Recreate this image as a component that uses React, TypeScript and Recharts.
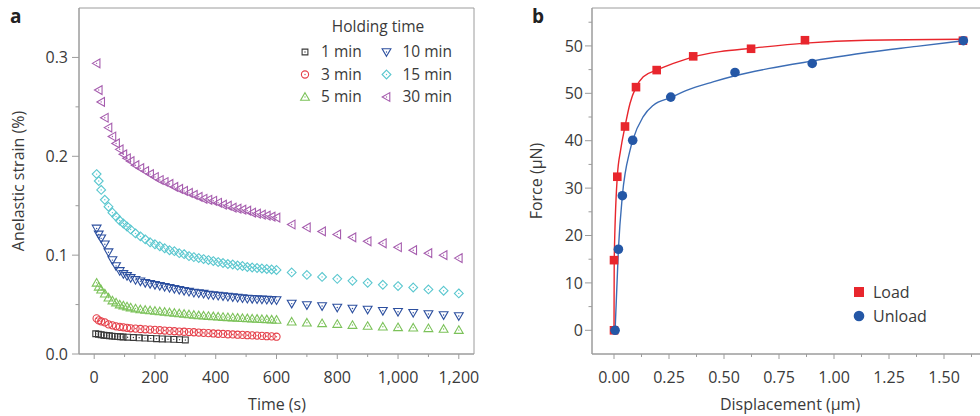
import React from "react";
import { ScatterChart, Scatter, XAxis, YAxis, ReferenceArea } from "recharts";

const FONT = '"Open Sans", "DejaVu Sans", sans-serif';
const TEXT = "#3a3a3a";
const AXIS = "#9c9c9c";

// ---- panel a: anelastic strain vs time ----
const oneMinTimes = [5, 14, 23, 32, 41, 50, 59, 68, 77, 86, 95, 110, 129, 148, 167, 186, 205, 224, 243, 262, 281, 300];
const oneMinStrain = [0.0205, 0.02, 0.0195, 0.019, 0.0187, 0.0184, 0.0181, 0.0178, 0.0176, 0.0174, 0.0172, 0.017, 0.0167, 0.0164, 0.0161, 0.0158, 0.0155, 0.0152, 0.015, 0.0148, 0.0145, 0.0142];

const holdTimes = [8, 15, 23, 35, 47, 60, 72, 84, 96, 108, 120, 136, 152, 168, 184, 200, 216, 232, 248, 264, 280, 296, 312, 328, 344, 360, 376, 392, 408, 424, 440, 456, 472, 488, 504, 520, 536, 552, 568, 584, 600];
const tailTimes = [650, 700, 750, 800, 850, 900, 950, 1000, 1050, 1100, 1150, 1200];

const threeMinStrain = [0.036, 0.034, 0.033, 0.032, 0.03, 0.029, 0.028, 0.0275, 0.027, 0.0265, 0.026, 0.0257, 0.0253, 0.025, 0.0247, 0.0244, 0.024, 0.0237, 0.0234, 0.023, 0.0227, 0.0225, 0.0222, 0.022, 0.0217, 0.0214, 0.0211, 0.0208, 0.0205, 0.0203, 0.02, 0.0198, 0.0195, 0.0193, 0.019, 0.0188, 0.0186, 0.0183, 0.018, 0.0178, 0.0175];
const fiveMinStrain = [0.072, 0.068, 0.065, 0.061, 0.057, 0.054, 0.052, 0.05, 0.049, 0.048, 0.047, 0.046, 0.045, 0.0445, 0.044, 0.0435, 0.043, 0.0425, 0.042, 0.0415, 0.041, 0.0405, 0.04, 0.0395, 0.039, 0.0387, 0.0384, 0.038, 0.0377, 0.0374, 0.0371, 0.0368, 0.0365, 0.0362, 0.036, 0.0357, 0.0355, 0.0352, 0.035, 0.0347, 0.0345,
  0.0326, 0.0316, 0.031, 0.0303, 0.0293, 0.0283, 0.0276, 0.027, 0.0266, 0.026, 0.0253, 0.0242];
const tenMinStrain = [0.127, 0.121, 0.117, 0.111, 0.103, 0.095, 0.089, 0.084, 0.081, 0.079, 0.077, 0.075, 0.0735, 0.072, 0.071, 0.07, 0.069, 0.068, 0.067, 0.066, 0.065, 0.064, 0.063, 0.062, 0.0615, 0.061, 0.06, 0.0595, 0.059, 0.0585, 0.058, 0.0575, 0.057, 0.0565, 0.056, 0.0558, 0.0555, 0.0552, 0.055, 0.0547, 0.0545,
  0.051, 0.0495, 0.0485, 0.047, 0.046, 0.045, 0.0437, 0.0427, 0.0417, 0.0404, 0.0394, 0.0384];
const fifteenMinStrain = [0.182, 0.175, 0.166, 0.156, 0.149, 0.143, 0.139, 0.135, 0.132, 0.129, 0.126, 0.122, 0.119, 0.116, 0.113, 0.111, 0.109, 0.107, 0.105, 0.104, 0.102, 0.101, 0.099, 0.098, 0.097, 0.096, 0.095, 0.094, 0.093, 0.092, 0.091, 0.0905, 0.0895, 0.089, 0.088, 0.0875, 0.087, 0.0865, 0.086, 0.0855, 0.085,
  0.0825, 0.08, 0.078, 0.076, 0.074, 0.072, 0.07, 0.0687, 0.0673, 0.0653, 0.064, 0.0613];
const thirtyMinStrain = [0.294, 0.267, 0.255, 0.239, 0.229, 0.22, 0.213, 0.207, 0.202, 0.198, 0.195, 0.191, 0.188, 0.185, 0.182, 0.179, 0.176, 0.174, 0.172, 0.169, 0.167, 0.165, 0.163, 0.161, 0.159, 0.157, 0.156, 0.155, 0.153, 0.151, 0.15, 0.148, 0.147, 0.146, 0.145, 0.143, 0.142, 0.141, 0.14, 0.139, 0.138,
  0.131, 0.128, 0.124, 0.121, 0.118, 0.114, 0.112, 0.108, 0.105, 0.102, 0.1, 0.097];

const timeTicks = [0, 200, 400, 600, 800, 1000, 1200];
const timeTickLabels = ["0", "200", "400", "600", "800", "1,000", "1,200"];
const timeMinorTicks = [100, 300, 500, 700, 900, 1100];
const strainTicks = [0, 0.1, 0.2, 0.3];
const strainTickLabels = ["0.0", "0.1", "0.2", "0.3"];
const strainMinorTicks = [0.05, 0.15, 0.25];

// ---- panel b: force vs displacement ----
const loadDisp = [0, 0, 0.015, 0.05, 0.1, 0.194, 0.36, 0.623, 0.868, 1.586];
const loadForce = [0, 14.8, 32.4, 43, 51.3, 54.9, 57.8, 59.4, 61.2, 61.1];
const unloadDisp = [0.005, 0.02, 0.038, 0.085, 0.258, 0.55, 0.901, 1.588];
const unloadForce = [0, 17.1, 28.4, 40.1, 49.2, 54.4, 56.3, 61.1];
// fitted curves
const loadFitDisp = [0, 0.001, 0.015, 0.03, 0.05, 0.073, 0.1, 0.133, 0.194, 0.27, 0.36, 0.482, 0.623, 0.868, 1.149, 1.588];
const loadFitForce = [0, 14.8, 32.4, 38, 43, 47.9, 51.3, 53.5, 54.9, 56.3, 57.7, 58.8, 59.5, 60.6, 61.2, 61.4];
const unloadFitDisp = [0.005, 0.02, 0.038, 0.073, 0.085, 0.133, 0.179, 0.258, 0.33, 0.45, 0.55, 0.7, 0.9, 1.149, 1.376, 1.588];
const unloadFitForce = [0, 17.1, 28.4, 38, 40.1, 45.1, 47.5, 49.1, 50.6, 52.4, 53.7, 55.2, 56.8, 58.6, 59.9, 61.1];

const dispTicks = [0, 0.25, 0.5, 0.75, 1, 1.25, 1.5];
const dispTickLabels = ["0.00", "0.25", "0.50", "0.75", "1.00", "1.25", "1.50"];
const dispMinorTicks = [0.125, 0.375, 0.625, 0.875, 1.125, 1.375, 1.625];
const forceTicks = [0, 10, 20, 30, 40, 50, 60];
const forceTickLabels = ["0", "10", "20", "30", "40", "50", "50"];
const forceMinorTicks = [5, 15, 25, 35, 45, 55, 65];

const pts = (xs: number[], ys: number[]) => xs.map((x, i) => ({ x, y: ys[i] }));

type Kind = "square" | "circle" | "up" | "down" | "diamond" | "left";

function markerD(kind: Kind, cx: number, cy: number) {
  switch (kind) {
    case "square":
      return `M${cx - 2.9},${cy - 2.9}h5.8v5.8h-5.8Z`;
    case "circle":
      return `M${cx - 3.6},${cy}a3.6,3.6 0 1,0 7.2,0a3.6,3.6 0 1,0 -7.2,0`;
    case "up":
      return `M${cx},${cy - 4.3}L${cx + 4.4},${cy + 3.3}L${cx - 4.4},${cy + 3.3}Z`;
    case "down":
      return `M${cx},${cy + 4.3}L${cx + 4.4},${cy - 3.3}L${cx - 4.4},${cy - 3.3}Z`;
    case "diamond":
      return `M${cx},${cy - 4.4}L${cx + 4.4},${cy}L${cx},${cy + 4.4}L${cx - 4.4},${cy}Z`;
    default:
      return `M${cx - 4.3},${cy}L${cx + 3.3},${cy - 4.4}L${cx + 3.3},${cy + 4.4}Z`;
  }
}

const Marker = ({ kind, color, cx, cy }: { kind: Kind; color: string; cx: number; cy: number }) => (
  <g>
    <path d={markerD(kind, cx, cy)} fill="none" stroke={color} strokeWidth={1.1} />
    <circle cx={cx} cy={cy} r={0.7} fill={color} />
  </g>
);

const hollow = (kind: Kind, color: string) => (p: any) => <Marker kind={kind} color={color} cx={p.cx} cy={p.cy} />;

const holdingSeries = [
  { name: "1 min", kind: "square" as Kind, color: "#3a3a3a", data: pts(oneMinTimes, oneMinStrain) },
  { name: "3 min", kind: "circle" as Kind, color: "#e5404a", data: pts(holdTimes, threeMinStrain) },
  { name: "5 min", kind: "up" as Kind, color: "#7cc25a", data: pts([...holdTimes, ...tailTimes], fiveMinStrain) },
  { name: "10 min", kind: "down" as Kind, color: "#2c4f9f", data: pts([...holdTimes, ...tailTimes], tenMinStrain) },
  { name: "15 min", kind: "diamond" as Kind, color: "#5ac7cf", data: pts([...holdTimes, ...tailTimes], fifteenMinStrain) },
  { name: "30 min", kind: "left" as Kind, color: "#a65dae", data: pts([...holdTimes, ...tailTimes], thirtyMinStrain) },
];

const findLabel = (v: number, ticks: number[], labels: string[]) => {
  const i = ticks.findIndex((t) => Math.abs(t - v) < 1e-9);
  return i >= 0 ? labels[i] : null;
};

const bottomTick = (ticks: number[], labels: string[]) => (p: any) => {
  const label = findLabel(p.payload.value, ticks, labels);
  const len = label !== null ? 5 : 3;
  return (
    <g>
      <line x1={p.x} x2={p.x} y1={p.y} y2={p.y + len} stroke={AXIS} />
      {label !== null && (
        <text x={p.x} y={p.y + 29} textAnchor="middle" fontSize={16} fill={TEXT} fontFamily={FONT}>
          {label}
        </text>
      )}
    </g>
  );
};

const leftTick = (ticks: number[], labels: string[], gap: number) => (p: any) => {
  const label = findLabel(p.payload.value, ticks, labels);
  const len = label !== null ? 7 : 3.5;
  return (
    <g>
      <line x1={p.x - len} x2={p.x} y1={p.y} y2={p.y} stroke={AXIS} />
      {label !== null && (
        <text x={p.x - gap} y={p.y + 5.7} textAnchor="end" fontSize={16} fill={TEXT} fontFamily={FONT}>
          {label}
        </text>
      )}
    </g>
  );
};

const sorted = (a: number[], b: number[]) => [...a, ...b].sort((m, n) => m - n);

function StrainPanel() {
  return (
    <ScatterChart width={480} height={416} margin={{ top: 8, right: 6, bottom: 32, left: 29 }}>
      <XAxis
        type="number"
        dataKey="x"
        domain={[-50, 1250]}
        allowDataOverflow
        ticks={sorted(timeTicks, timeMinorTicks)}
        interval={0}
        tickSize={0}
        tickMargin={0}
        tickLine={false}
        axisLine={{ stroke: AXIS }}
        height={30}
        tick={bottomTick(timeTicks, timeTickLabels)}
      />
      <YAxis
        type="number"
        dataKey="y"
        domain={[0, 0.35]}
        allowDataOverflow
        ticks={sorted(strainTicks, strainMinorTicks)}
        interval={0}
        tickSize={0}
        tickMargin={0}
        tickLine={false}
        axisLine={{ stroke: AXIS }}
        width={50}
        tick={leftTick(strainTicks, strainTickLabels, 11)}
      />
      <ReferenceArea x1={-50} x2={1250} y1={0} y2={0.35} fill="none" stroke={AXIS} strokeOpacity={1} />
      {holdingSeries.map((s) => (
        <Scatter key={s.name} name={s.name} data={s.data} shape={hollow(s.kind, s.color)} isAnimationActive={false} />
      ))}
    </ScatterChart>
  );
}

const RED = "#e8262d";
const BLUE = "#2457a6";

const filledSquare = (p: any) => <rect x={p.cx - 4.3} y={p.cy - 4.3} width={8.6} height={8.6} fill={RED} />;
const filledCircle = (p: any) => <circle cx={p.cx} cy={p.cy} r={4.8} fill={BLUE} />;
const noMark = () => <g />;

function ForcePanel() {
  return (
    <ScatterChart width={500} height={416} margin={{ top: 8, right: 12, bottom: 32, left: 42 }}>
      <XAxis
        type="number"
        dataKey="x"
        domain={[-0.1, 1.7]}
        allowDataOverflow
        ticks={sorted(dispTicks, dispMinorTicks)}
        interval={0}
        tickSize={0}
        tickMargin={0}
        tickLine={false}
        axisLine={{ stroke: AXIS }}
        height={30}
        tick={bottomTick(dispTicks, dispTickLabels)}
      />
      <YAxis
        type="number"
        dataKey="y"
        domain={[-5, 68]}
        allowDataOverflow
        ticks={sorted(forceTicks, forceMinorTicks)}
        interval={0}
        tickSize={0}
        tickMargin={0}
        tickLine={false}
        axisLine={{ stroke: AXIS }}
        width={50}
        tick={leftTick(forceTicks, forceTickLabels, 9)}
      />
      <ReferenceArea x1={-0.1} x2={1.7} y1={-5} y2={68} fill="none" stroke={AXIS} strokeOpacity={1} />
      <Scatter
        data={pts(unloadFitDisp, unloadFitForce)}
        line={{ stroke: "#3c6db5", strokeWidth: 1.4 }}
        lineJointType="monotoneX"
        shape={noMark}
        isAnimationActive={false}
      />
      <Scatter
        data={pts(loadFitDisp, loadFitForce)}
        line={{ stroke: RED, strokeWidth: 1.4 }}
        lineJointType="monotoneX"
        shape={noMark}
        isAnimationActive={false}
      />
      <Scatter name="Load" data={pts(loadDisp, loadForce)} shape={filledSquare} isAnimationActive={false} />
      <Scatter name="Unload" data={pts(unloadDisp, unloadForce)} shape={filledCircle} isAnimationActive={false} />
    </ScatterChart>
  );
}

const legendCols = [305, 386.5];
const legendRows = [52, 74.5, 97];

function Annotations() {
  const t = { fontFamily: FONT, fill: TEXT };
  return (
    <svg width={980} height={416} style={{ position: "absolute", left: 0, top: 0, pointerEvents: "none" }}>
      <text x={10} y={23} fontSize={19} fontWeight="bold" {...t} fill="#222">a</text>
      <text x={532} y={23} fontSize={19} fontWeight="bold" {...t} fill="#222">b</text>

      <text x={277} y={410} fontSize={16} textAnchor="middle" {...t}>Time (s)</text>
      <text x={790} y={410} fontSize={16} textAnchor="middle" {...t}>Displacement (μm)</text>
      <text transform="translate(23.5,181) rotate(-90)" fontSize={16} textAnchor="middle" {...t}>Anelastic strain (%)</text>
      <text transform="translate(542,181) rotate(-90)" fontSize={16} textAnchor="middle" {...t}>Force (μN)</text>

      <text x={378} y={32} fontSize={15.5} textAnchor="middle" {...t}>Holding time</text>
      {holdingSeries.map((s, i) => {
        const col = Math.floor(i / 3);
        const row = i % 3;
        const cx = legendCols[col];
        const cy = legendRows[row];
        return (
          <g key={s.name}>
            <Marker kind={s.kind} color={s.color} cx={cx} cy={cy} />
            <text x={cx + 16} y={cy + 5.3} fontSize={15.5} {...t}>{s.name}</text>
          </g>
        );
      })}

      <rect x={854} y={287} width={10} height={10} fill={RED} />
      <text x={873} y={298} fontSize={16} {...t}>Load</text>
      <circle cx={859} cy={316} r={5.3} fill={BLUE} />
      <text x={873} y={322} fontSize={16} {...t}>Unload</text>
    </svg>
  );
}

export default function App() {
  return (
    <div style={{ position: "absolute", left: 0, top: 0, width: 980, height: 416, overflow: "hidden", background: "#fff" }}>
      <div style={{ position: "absolute", left: 0, top: 0 }}>
        <StrainPanel />
      </div>
      <div style={{ position: "absolute", left: 500, top: 0 }}>
        <ForcePanel />
      </div>
      <Annotations />
    </div>
  );
}
